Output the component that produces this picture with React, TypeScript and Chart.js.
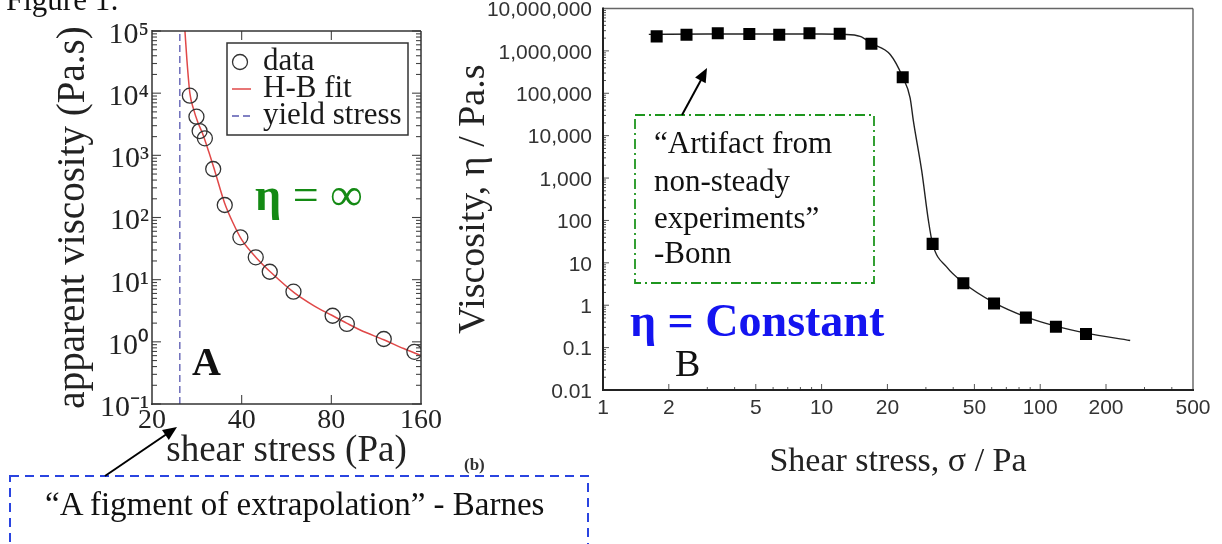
import React, { useEffect, useRef } from 'react';
import { Chart, registerables } from 'chart.js';

Chart.register(...registerables);

const SERIF = '"Liberation Serif", "Times New Roman", Times, serif';
const SANS = '"Liberation Sans", Arial, Helvetica, sans-serif';

// ---------- Panel A (left) ----------
const aStress = [26.8, 28.2, 28.9, 30.1, 32.1, 35.1, 39.6, 44.6, 49.7, 59.7, 80.8, 90.2, 120, 152];
const aViscosity = [9100, 4180, 2460, 1880, 603, 159, 48, 22.9, 13.4, 6.4, 2.63, 1.94, 1.11, 0.69];
const aFitStress = [25.8, 26.2, 26.8, 27.5, 28.5, 29.5, 31, 32.5, 35, 37.5, 40, 45, 50, 60, 70, 80, 90, 100, 120, 140, 160];
const aFitViscosity = [100000, 34000, 10000, 5800, 3400, 2300, 1150, 560, 175, 80, 44, 22, 13.3, 6.2, 3.8, 2.7, 2.0, 1.55, 1.08, 0.78, 0.6];
const aYieldStress = 24.8;
const aXTicks = [20, 40, 80, 160];
const aXTickLabels = ['20', '40', '80', '160'];
const aYTicks = [0.1, 1, 10, 100, 1000, 10000, 100000];
const aYTickLabels = ['10⁻¹', '10⁰', '10¹', '10²', '10³', '10⁴', '10⁵'];
const aSeriesLabels = ['data', 'H-B fit', 'yield stress'];

// ---------- Panel B (right) ----------
const bStress = [1.76, 2.41, 3.35, 4.67, 6.4, 8.8, 12.1, 16.9, 23.5, 32.2, 44.5, 61.5, 86, 118, 162];
const bViscosity = [2.2e6, 2.4e6, 2.6e6, 2.5e6, 2.4e6, 2.6e6, 2.55e6, 1.48e6, 2.4e5, 28, 3.3, 1.1, 0.51, 0.31, 0.21];
const bFitStress = [1.62, 3, 6, 10, 12.5, 15, 16.9, 20.6, 23.5, 25.4, 26.3, 28.7, 30.8, 32.2, 37.4, 44.5, 61.5, 86, 118, 162, 258];
const bFitViscosity = [2.45e6, 2.5e6, 2.5e6, 2.5e6, 2.45e6, 2.2e6, 1.5e6, 8.2e5, 2.4e5, 7.8e4, 2.2e4, 1490, 100, 28, 7.9, 3.4, 1.15, 0.53, 0.32, 0.22, 0.147];
const bXTicks = [1, 2, 5, 10, 20, 50, 100, 200, 500];
const bXTickLabels = ['1', '2', '5', '10', '20', '50', '100', '200', '500'];
const bYTicks = [0.01, 0.1, 1, 10, 100, 1000, 10000, 100000, 1000000, 10000000];
const bYTickLabels = ['0.01', '0.1', '1', '10', '100', '1,000', '10,000', '100,000', '1,000,000', '10,000,000'];

const toPoints = (xs: number[], ys: number[]) => xs.map((x, i) => ({ x, y: ys[i] }));

function logMinors(min: number, max: number, majors: number[]) {
  const out: number[] = [];
  for (let k = Math.floor(Math.log10(min)); k <= Math.ceil(Math.log10(max)); k++) {
    for (let d = 1; d <= 9; d++) {
      const v = d * Math.pow(10, k);
      if (v > min * 1.0001 && v < max * 0.9999 && !majors.some((m) => Math.abs(m - v) / v < 1e-6)) out.push(v);
    }
  }
  return out;
}

const noPad = (s: any) => {
  s.paddingTop = 0;
  s.paddingBottom = 0;
  s.paddingLeft = 0;
  s.paddingRight = 0;
};

const frameTicks = {
  id: 'frameTicks',
  afterDatasetsDraw(chart: any, _args: any, o: any) {
    const { ctx, chartArea } = chart;
    const { left, right, top, bottom } = chartArea;
    const xs = chart.scales.x;
    const ys = chart.scales.y;
    ctx.save();
    const seg = (x1: number, y1: number, x2: number, y2: number) => {
      ctx.beginPath();
      ctx.moveTo(x1, y1);
      ctx.lineTo(x2, y2);
      ctx.stroke();
    };
    ctx.strokeStyle = o.tickColor;
    ctx.lineWidth = o.tickWidth;
    const yDraw = (vals: number[], len: number) =>
      vals.forEach((v) => {
        const p = ys.getPixelForValue(v);
        seg(left, p, left + len, p);
        if (o.yMirror) seg(right, p, right - len, p);
      });
    const xDraw = (vals: number[], len: number) =>
      vals.forEach((v) => {
        const p = xs.getPixelForValue(v);
        seg(p, bottom, p, bottom - len);
        if (o.xMirror) seg(p, top, p, top + len);
      });
    yDraw(o.yMajor, o.yMajorLen);
    if (o.yMinorLen) yDraw(logMinors(ys.min, ys.max, ys.ticks.map((t: any) => t.value)), o.yMinorLen);
    xDraw(o.xMajor, o.xMajorLen);
    if (o.xMinorLen) xDraw(logMinors(xs.min, xs.max, o.xMajor.concat([xs.min, xs.max])), o.xMinorLen);
    const f = o.frame;
    ctx.strokeStyle = f.top[0]; ctx.lineWidth = f.top[1]; seg(left, top, right, top);
    ctx.strokeStyle = f.right[0]; ctx.lineWidth = f.right[1]; seg(right, top, right, bottom);
    ctx.strokeStyle = f.bottom[0]; ctx.lineWidth = f.bottom[1]; seg(left - 1, bottom, right + 1, bottom);
    ctx.strokeStyle = f.left[0]; ctx.lineWidth = f.left[1]; seg(left, top - 1, left, bottom + 1);
    ctx.restore();
  },
};

const boxLegend = {
  id: 'boxLegend',
  afterDraw(chart: any, _args: any, o: any) {
    if (!o || !o.show) return;
    const { ctx } = chart;
    ctx.save();
    ctx.fillStyle = '#ffffff';
    ctx.fillRect(o.x, o.y, o.w, o.h);
    ctx.strokeStyle = '#333';
    ctx.lineWidth = 1.5;
    ctx.strokeRect(o.x, o.y, o.w, o.h);
    chart.data.datasets.forEach((d: any, i: number) => {
      const cy = o.y + o.firstRow + i * o.rowGap;
      ctx.strokeStyle = d.borderColor;
      ctx.lineWidth = d.borderWidth;
      ctx.setLineDash(d.borderDash || []);
      if (d.showLine === false) {
        ctx.beginPath();
        ctx.arc(o.x + 13, cy, d.pointRadius, 0, Math.PI * 2);
        ctx.stroke();
      } else {
        ctx.beginPath();
        ctx.moveTo(o.x + 5, cy);
        ctx.lineTo(o.x + 24, cy);
        ctx.stroke();
      }
      ctx.setLineDash([]);
      ctx.fillStyle = '#1a1a1a';
      ctx.font = `${o.fontSize}px ${SERIF}`;
      ctx.textBaseline = 'alphabetic';
      ctx.textAlign = 'left';
      ctx.fillText(d.label, o.x + o.textX, cy + o.baseline);
    });
    ctx.restore();
  },
};

export default function App() {
  const leftRef = useRef<HTMLCanvasElement>(null);
  const rightRef = useRef<HTMLCanvasElement>(null);

  useEffect(() => {
    const left = new Chart(leftRef.current as HTMLCanvasElement, {
      type: 'scatter',
      data: {
        datasets: [
          {
            label: aSeriesLabels[0],
            data: toPoints(aStress, aViscosity),
            showLine: false,
            pointStyle: 'circle',
            pointRadius: 7.5,
            pointBorderWidth: 1.3,
            borderColor: '#333333',
            borderWidth: 1.3,
            backgroundColor: 'rgba(0,0,0,0)',
            pointBackgroundColor: 'rgba(0,0,0,0)',
          },
          {
            label: aSeriesLabels[1],
            data: toPoints(aFitStress, aFitViscosity),
            showLine: true,
            pointRadius: 0,
            borderColor: '#e04848',
            borderWidth: 1.5,
            cubicInterpolationMode: 'monotone',
          },
          {
            label: aSeriesLabels[2],
            data: [
              { x: aYieldStress, y: aYTicks[0] },
              { x: aYieldStress, y: aYTicks[aYTicks.length - 1] },
            ],
            showLine: true,
            pointRadius: 0,
            borderColor: '#5858b0',
            borderWidth: 1.3,
            borderDash: [7, 4],
          },
        ],
      } as any,
      options: {
        responsive: false,
        animation: false,
        devicePixelRatio: 1,
        events: [],
        layout: { padding: { top: 31, right: 39, left: 0, bottom: 0 } },
        plugins: {
          legend: { display: false },
          tooltip: { enabled: false },
          frameTicks: {
            tickColor: '#444',
            tickWidth: 1.1,
            yMajor: aYTicks,
            yMajorLen: 9,
            yMinorLen: 5,
            yMirror: true,
            xMajor: aXTicks.slice(1, -1),
            xMajorLen: 9,
            xMinorLen: 0,
            xMirror: true,
            frame: { top: ['#333', 1.5], right: ['#333', 1.5], bottom: ['#333', 1.5], left: ['#333', 1.5] },
          },
          boxLegend: { show: true, x: 227, y: 43, w: 181, h: 92, firstRow: 19, rowGap: 27, textX: 36, baseline: 8, fontSize: 31 },
        } as any,
        scales: {
          x: {
            type: 'logarithmic',
            min: aXTicks[0],
            max: aXTicks[aXTicks.length - 1],
            afterBuildTicks: (s: any) => { s.ticks = aXTicks.map((v) => ({ value: v })); },
            afterFit: (s: any) => { s.height = 76; noPad(s); },
            grid: { display: false, drawTicks: false },
            border: { display: false },
            ticks: {
              autoSkip: false,
              maxRotation: 0,
              padding: 0,
              color: '#222',
              font: { family: SERIF, size: 28 },
              callback: (_v: any, i: number) => aXTickLabels[i],
            },
            title: { display: true, text: 'shear stress (Pa)', color: '#222', font: { family: SERIF, size: 37 }, padding: { top: 0, bottom: 7 } },
          },
          y: {
            type: 'logarithmic',
            min: aYTicks[0],
            max: aYTicks[aYTicks.length - 1],
            afterBuildTicks: (s: any) => { s.ticks = aYTicks.map((v) => ({ value: v })); },
            afterFit: (s: any) => { s.width = 152; noPad(s); },
            grid: { display: false, drawTicks: false },
            border: { display: false },
            ticks: {
              autoSkip: false,
              padding: 3,
              labelOffset: 4,
              color: '#222',
              font: { family: SERIF, size: 30 },
              callback: (_v: any, i: number) => aYTickLabels[i],
            },
            title: { display: true, text: 'apparent viscosity (Pa.s)', color: '#222', font: { family: SERIF, size: 39 }, padding: { top: 50, bottom: 0 } },
          },
        },
      } as any,
      plugins: [frameTicks, boxLegend],
    });

    const right = new Chart(rightRef.current as HTMLCanvasElement, {
      type: 'scatter',
      data: {
        datasets: [
          {
            label: 'data',
            data: toPoints(bStress, bViscosity),
            showLine: false,
            pointStyle: 'rect',
            pointRadius: 8.5,
            pointBorderWidth: 0,
            backgroundColor: '#000',
            borderColor: '#000',
          },
          {
            label: 'fit',
            data: toPoints(bFitStress, bFitViscosity),
            showLine: true,
            pointRadius: 0,
            borderColor: '#222',
            borderWidth: 1.4,
            cubicInterpolationMode: 'monotone',
          },
        ],
      } as any,
      options: {
        responsive: false,
        animation: false,
        devicePixelRatio: 1,
        events: [],
        layout: { padding: { top: 7, right: 29, left: 0, bottom: 0 } },
        plugins: {
          legend: { display: false },
          tooltip: { enabled: false },
          frameTicks: {
            tickColor: '#555',
            tickWidth: 1,
            yMajor: bYTicks,
            yMajorLen: 6,
            yMinorLen: 3,
            yMirror: false,
            xMajor: bXTicks.slice(1, -1),
            xMajorLen: 6,
            xMinorLen: 3,
            xMirror: false,
            frame: { top: ['#666', 1.3], right: ['#555', 1.3], bottom: ['#222', 2], left: ['#222', 2] },
          },
        } as any,
        scales: {
          x: {
            type: 'logarithmic',
            min: bXTicks[0],
            max: bXTicks[bXTicks.length - 1],
            afterBuildTicks: (s: any) => { s.ticks = bXTicks.map((v) => ({ value: v })); },
            afterFit: (s: any) => { s.height = 154; noPad(s); },
            grid: { display: false, drawTicks: false },
            border: { display: false },
            ticks: {
              autoSkip: false,
              maxRotation: 0,
              padding: 6,
              color: '#333',
              font: { family: SANS, size: 21 },
              callback: (_v: any, i: number) => bXTickLabels[i],
            },
            title: { display: true, text: 'Shear stress, σ / Pa', color: '#222', font: { family: SERIF, size: 34 }, padding: { top: 0, bottom: 62 } },
          },
          y: {
            type: 'logarithmic',
            min: bYTicks[0],
            max: bYTicks[bYTicks.length - 1],
            afterBuildTicks: (s: any) => { s.ticks = bYTicks.map((v) => ({ value: v })); },
            afterFit: (s: any) => { s.width = 163; noPad(s); },
            grid: { display: false, drawTicks: false },
            border: { display: false },
            ticks: {
              autoSkip: false,
              padding: 11,
              labelOffset: 2,
              color: '#333',
              font: { family: SANS, size: 21 },
              callback: (_v: any, i: number) => bYTickLabels[i],
            },
            title: { display: true, text: 'Viscosity, η / Pa.s', color: '#222', font: { family: SERIF, size: 38 }, padding: { top: 11, bottom: 0 } },
          },
        },
      } as any,
      plugins: [frameTicks],
    });

    return () => {
      left.destroy();
      right.destroy();
    };
  }, []);

  return (
    <div style={{ position: 'absolute', left: 0, top: 0, width: 1222, height: 544, overflow: 'hidden', background: '#ffffff' }}>
      <canvas ref={leftRef} width={460} height={480} style={{ position: 'absolute', left: 0, top: 0 }} />
      <canvas ref={rightRef} width={782} height={544} style={{ position: 'absolute', left: 440, top: 0 }} />
      <svg width={1222} height={544} style={{ position: 'absolute', left: 0, top: 0, pointerEvents: 'none' }} fontFamily={SERIF}>
        <text x={6} y={10} fontSize={31} fill="#111">Figure 1:</text>
        <text x={255} y={210} fontSize={46} fill="#148a14">
          <tspan fontWeight="bold">η</tspan> = ∞
        </text>
        <text x={192} y={375} fontSize={40} fontWeight="bold" fill="#111">A</text>
        <text x={464} y={470} fontSize={17} fontWeight="bold" fill="#333">(b)</text>
        <rect x={10} y={476} width={578} height={100} fill="none" stroke="#2a44e0" strokeWidth={2} strokeDasharray="9 6" />
        <text x={45} y={515} fontSize={33} fill="#111">“A figment of extrapolation” - Barnes</text>
        <line x1={105} y1={476} x2={166} y2={434.5} stroke="#000" strokeWidth={2} />
        <polygon points="177,427 168.8,439.9 162,429.9" fill="#000" />
        <rect x={635} y={115} width={239} height={168} fill="none" stroke="#1e961e" strokeWidth={1.8} strokeDasharray="10 4 2 4" />
        <text x={654} y={153} fontSize={31} fill="#111">“Artifact from</text>
        <text x={654} y={191} fontSize={31} fill="#111">non-steady</text>
        <text x={654} y={228} fontSize={31} fill="#111">experiments”</text>
        <text x={654} y={263} fontSize={31} fill="#111">-Bonn</text>
        <line x1={682} y1={115} x2={701} y2={80} stroke="#000" strokeWidth={2} />
        <polygon points="707,68 705.7,83.2 695.1,77.6" fill="#000" />
        <text x={630} y={336} fontSize={46} fontWeight="bold" fill="#1414f0">η = Constant</text>
        <text x={675} y={376} fontSize={38} fill="#111">B</text>
      </svg>
    </div>
  );
}
